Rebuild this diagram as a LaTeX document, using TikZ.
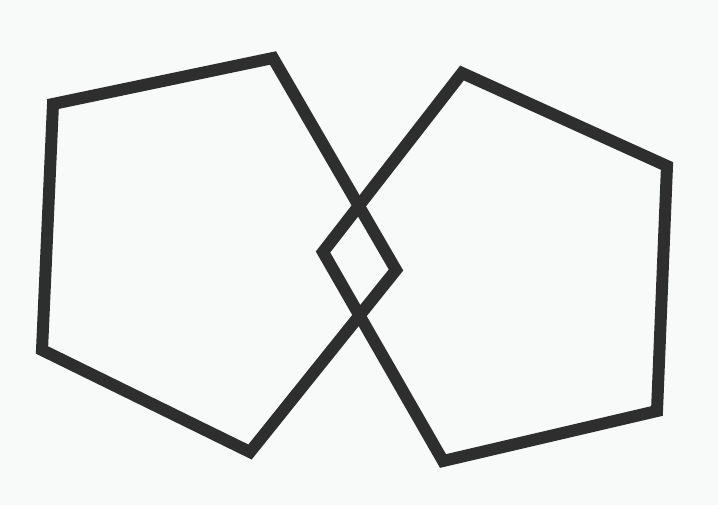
\documentclass[tikz,border=0pt]{standalone}
\begin{document}
\begin{tikzpicture}[x=1pt,y=-1pt,
  pent/.style={draw=ink, line width=12pt, line join=miter}]
\definecolor{ink}{HTML}{2E2E2E}
\definecolor{paper}{HTML}{F8F9F9}
\fill[paper] (0,0) rectangle (718,505);
\useasboundingbox (0,0) rectangle (718,505);
% left pentagon
\coordinate (a1) at (53,104);
\coordinate (a2) at (273,58);
\coordinate (a3) at (396,270);
\coordinate (a4) at (250,452);
\coordinate (a5) at (42,350);
% right pentagon
\coordinate (b1) at (462,73);
\coordinate (b2) at (667,166);
\coordinate (b3) at (657,411);
\coordinate (b4) at (443,461);
\coordinate (b5) at (323,252);
\draw[pent] (a1) -- (a2) -- (a3) -- (a4) -- (a5) -- cycle;
\draw[pent] (b1) -- (b2) -- (b3) -- (b4) -- (b5) -- cycle;
\end{tikzpicture}
\end{document}
